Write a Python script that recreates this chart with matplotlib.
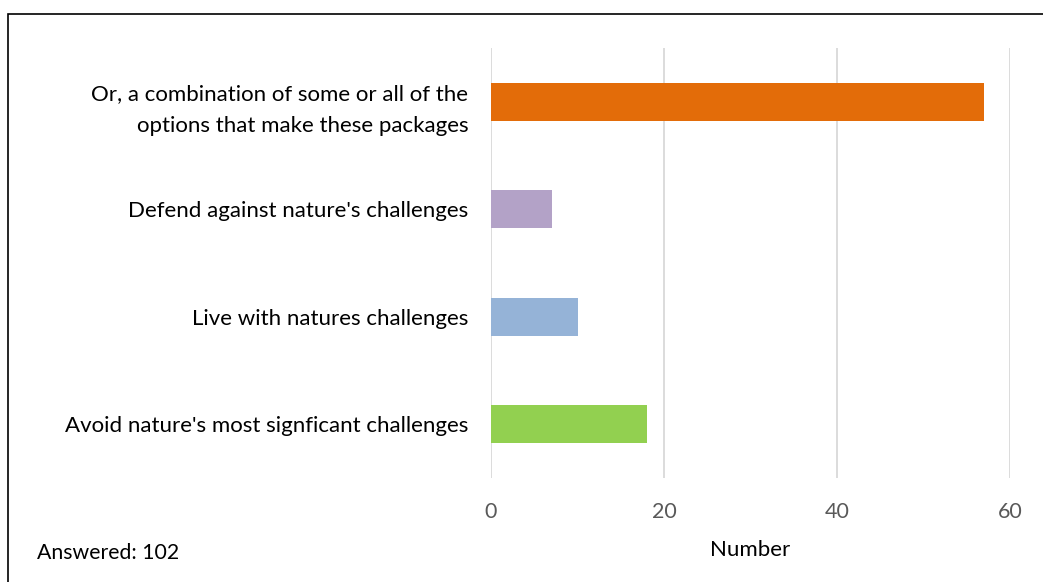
import matplotlib
matplotlib.use("Agg")
import matplotlib.pyplot as plt
from matplotlib.patches import Rectangle

categories = [
    "Avoid nature's most signficant challenges",
    "Live with natures challenges",
    "Defend against nature's challenges",
    "Or, a combination of some or all of the\noptions that make these packages",
]
values = [18, 10, 7, 57]
colors = ["#92d050", "#95b3d7", "#b3a2c7", "#e36c09"]
xticks = [0, 20, 40, 60]

plt.rcParams["font.family"] = ["Lato", "DejaVu Sans"]

fig = plt.figure(figsize=(10.43, 5.82), dpi=100)
ax = fig.add_axes([0.4708, 0.1787, 0.4976, 0.7388])

ax.barh(range(len(categories)), values, height=0.35, color=colors, zorder=3)
ax.set_ylim(-0.5, len(categories) - 0.5)
ax.set_xlim(0, 60)
ax.set_xticks(xticks)
ax.set_yticks(range(len(categories)))
ax.set_yticklabels(categories, fontsize=16, color="black", linespacing=1.75)
ax.tick_params(axis="y", length=0, pad=16.5)
ax.tick_params(axis="x", length=0, pad=17, labelsize=15.5, labelcolor="#595959")
ax.grid(axis="x", color="#d9d9d9", linewidth=1.3, zorder=0)
for s in ax.spines.values():
    s.set_visible(False)

ax.set_xlabel("Number", fontsize=16, color="black", labelpad=13)

fig.text(37 / 1043, 1 - 553 / 582, "Answered: 102", fontsize=15.3,
         ha="left", va="center", color="black")

# frame around the chart, right and bottom edges run off the picture
fig.patches.append(Rectangle((8 / 1043, -0.05), 1.1, 1 - 13.5 / 582 + 0.05,
                             transform=fig.transFigure, fill=False,
                             edgecolor="black", linewidth=1.2, clip_on=False))

fig.savefig("out.png", dpi=100)
